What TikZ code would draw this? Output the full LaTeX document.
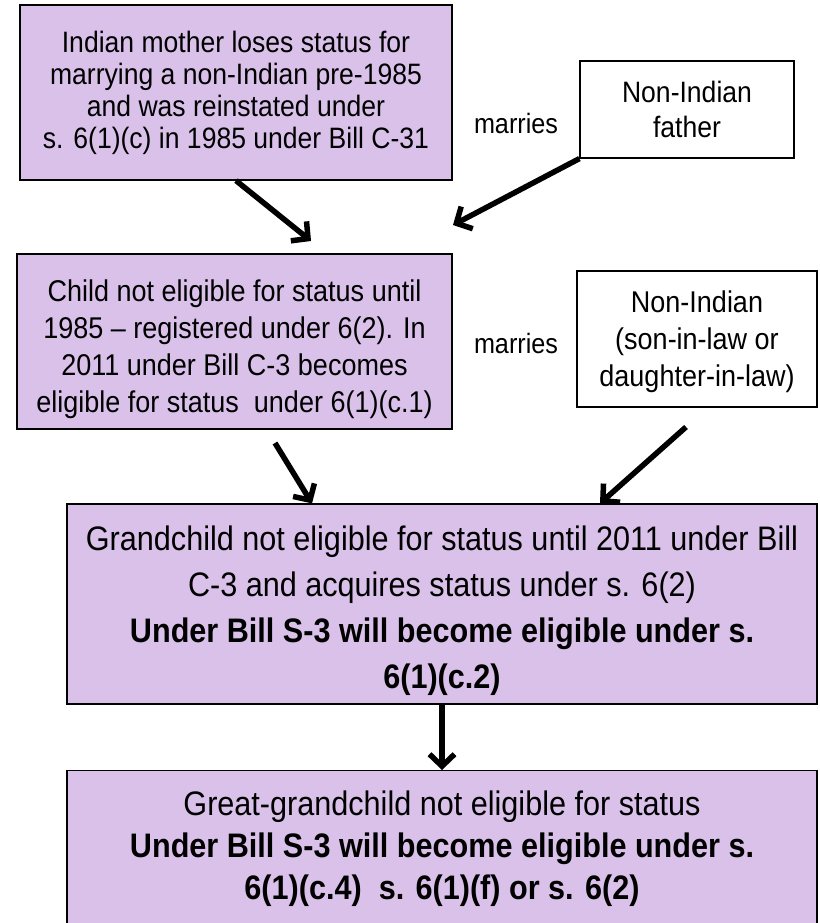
\documentclass[tikz,border=0pt]{standalone}
\usepackage{fontspec}
\usetikzlibrary{arrows.meta}
\newfontfamily\narrowsans[FakeStretch=0.9]{Liberation Sans}
\definecolor{lilac}{RGB}{218,193,234}

\begin{document}
\begin{tikzpicture}[x=1pt, y=1pt,
  purplebox/.style={rectangle, draw=black, line width=1.2pt, fill=lilac, align=center, inner sep=0pt},
  whitebox/.style={rectangle, draw=black, line width=1.2pt, fill=white, align=center, inner sep=0pt},
  flow/.style={line width=5.5pt, -{Straight Barb[length=12pt, width=25pt]}}]
  \useasboundingbox (0,0) rectangle (819,-923);
  \node [purplebox, minimum width=432, minimum height=175, font={\narrowsans\fontsize{29.5}{32}\selectfont}] (mother) at (236,-92.5) {Indian mother loses status for\\marrying a non-Indian pre-1985\\and was reinstated under\\s. 6(1)(c) in 1985 under Bill C-31};
  \node [whitebox, minimum width=214, minimum height=97, font={\narrowsans\fontsize{29.5}{35}\selectfont}] (father) at (687,-109.5) {Non-Indian\\father};
  \node [font={\narrowsans\fontsize{28}{34}\selectfont}, inner sep=0pt] (marries1) at (516,-123) {marries};
  \node [purplebox, minimum width=435, minimum height=175, font={\narrowsans\fontsize{30}{37}\selectfont}] (child) at (234.5,-341.5) {\rule{0pt}{38pt}Child not eligible for status until\\1985 – registered under 6(2). In\\2011 under Bill C-3 becomes\\eligible for status\ \ under 6(1)(c.1)};
  \node [whitebox, minimum width=240, minimum height=136, font={\narrowsans\fontsize{30}{37}\selectfont}] (inlaw) at (697,-339) {\rule{0pt}{28pt}Non-Indian\\(son-in-law or\\daughter-in-law)};
  \node [font={\narrowsans\fontsize{28}{34}\selectfont}, inner sep=0pt] (marries2) at (516,-343) {marries};
  \node [purplebox, minimum width=750, minimum height=200, font={\narrowsans\fontsize{34}{46}\selectfont}] (grandchild) at (442,-604) {\rule{0pt}{39pt}Grandchild not eligible for status until 2011 under Bill\\C-3 and acquires status under s. 6(2)\\\textbf{Under Bill S-3 will become eligible under s.}\\\textbf{6(1)(c.2)}};
  \node [purplebox, minimum width=750, minimum height=156, anchor=north, font={\narrowsans\fontsize{34}{42}\selectfont}] (ggchild) at (442,-770) {Great-grandchild not eligible for status\\\textbf{Under Bill S-3 will become eligible under s.}\\\textbf{6(1)(c.4)\ \ s. 6(1)(f) or s. 6(2)}};
  \coordinate (childin) at (311,-241);
  \coordinate (fatherin) at (453,-225);
  \coordinate (childout) at (275,-443);
  \coordinate (inlawout) at (686,-427);
  \coordinate (gcleft) at ([xshift=-130pt]grandchild.north);
  \coordinate (gcright) at ([xshift=158pt]grandchild.north);
  \draw [flow] (mother.south) -- (childin);
  \draw [flow] (father.south west) -- (fatherin);
  \draw [flow] (childout) -- (gcleft);
  \draw [flow] (inlawout) -- (gcright);
  \draw [flow] (grandchild.south) -- (ggchild.north);
\end{tikzpicture}
\end{document}
